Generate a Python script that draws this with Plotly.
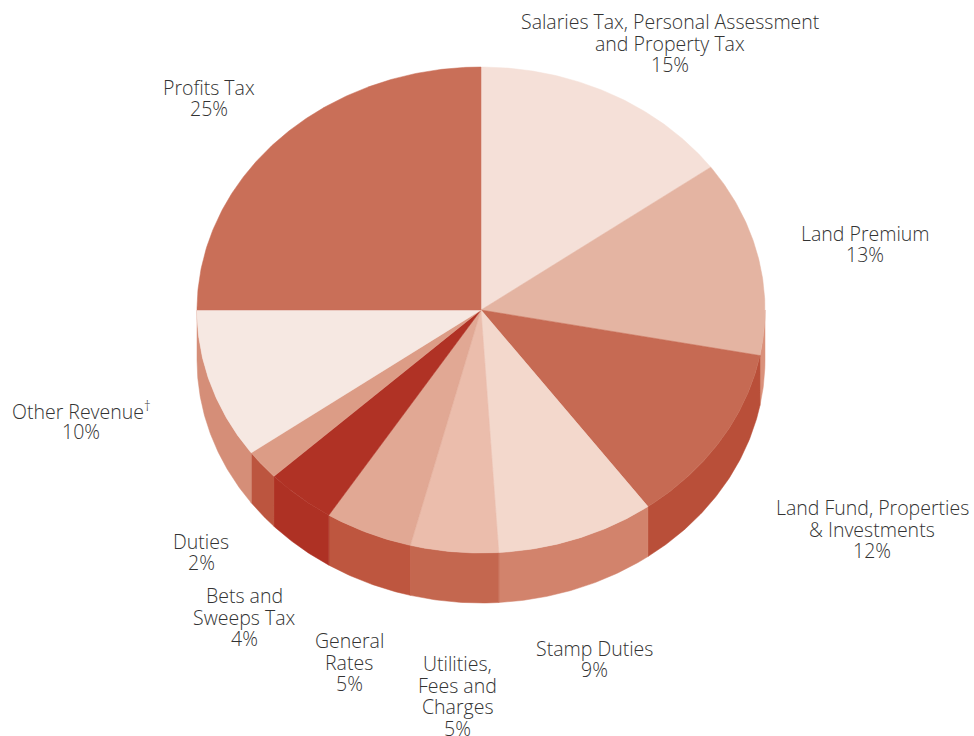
import numpy as np
import plotly.graph_objects as go

categories = ["Salaries Tax, Personal Assessment<br>and Property Tax", "Land Premium",
              "Land Fund, Properties<br>& Investments", "Stamp Duties",
              "Utilities,<br>Fees and<br>Charges", "General<br>Rates",
              "Bets and<br>Sweeps Tax", "Duties", "Other Revenue<sup>†</sup>", "Profits Tax"]
shares = [15, 13, 12, 9, 5, 5, 4, 2, 10, 25]
top_colors = ["#f5e0d8", "#e4b4a2", "#c66a53", "#f3d8cc", "#ebbdac",
              "#e1a894", "#b03225", "#dc9c86", "#f6e8e2", "#c96f58"]
side_colors = ["#eec9ba", "#da917b", "#b94f39", "#d2836c", "#c4674f",
               "#be563f", "#ae3124", "#bc553f", "#d58e78", "#c96f58"]
label_x = [670, 865, 872, 594, 457, 349, 244, 201, 81, 209]
label_y = [43, 244, 529, 659, 696, 662, 617, 552, 421, 98]

CX, CY, RX, RY, DEPTH = 481, 310, 284, 243, 50
LINE_STEP = 21.6


def arc(a0, a1, dy=0.0):
    t = np.radians(np.linspace(a0, a1, max(2, int(abs(a1 - a0) * 2) + 1)))
    return CX + RX * np.sin(t), CY + dy - RY * np.cos(t)


edges = np.concatenate([[0], np.cumsum(shares)]) * 3.6
fig = go.Figure()

# walls first, so that the tops lie over them
for i, (a0, a1) in enumerate(zip(edges[:-1], edges[1:])):
    lo, hi = max(a0, 90), min(a1, 270)
    if hi <= lo:
        continue
    xt, yt = arc(lo, hi)
    xb, yb = arc(hi, lo, DEPTH)
    fig.add_trace(go.Scatter(x=np.r_[xt, xb, xt[0]], y=np.r_[yt, yb, yt[0]], mode="lines",
                             fill="toself", fillcolor=side_colors[i],
                             line=dict(color=side_colors[i], width=0.5),
                             hoverinfo="skip", showlegend=False))

for i, (a0, a1) in enumerate(zip(edges[:-1], edges[1:])):
    xa, ya = arc(a0, a1)
    fig.add_trace(go.Scatter(x=np.r_[CX, xa, CX], y=np.r_[CY, ya, CY], mode="lines",
                             fill="toself", fillcolor=top_colors[i],
                             line=dict(color=top_colors[i], width=0.5),
                             name=categories[i].replace("<br>", " "),
                             hoverinfo="name", showlegend=False))

# each label line is placed on its own, the reference leads tighter than plotly's <br>
for name, share, x, y in zip(categories, shares, label_x, label_y):
    lines = name.split("<br>") + [f"{share}%"]
    for k, line in enumerate(lines):
        fig.add_annotation(x=x, y=y + (k - (len(lines) - 1) / 2) * LINE_STEP, text=line,
                           showarrow=False, align="center", xanchor="center", yanchor="middle",
                           font=dict(family="Open Sans", size=19.5, color="#333333", weight=300))

fig.update_layout(width=974, height=736, margin=dict(l=0, r=0, t=0, b=0),
                  paper_bgcolor="white", plot_bgcolor="white",
                  xaxis=dict(range=[0, 974], visible=False, fixedrange=True),
                  yaxis=dict(range=[736, 0], visible=False, fixedrange=True))
# the page's default 8px body margin would push the plot out of the window
fig.write_html("out.html", config={"displayModeBar": False},
               post_script="document.body.style.margin='0';document.body.style.overflow='hidden';")
